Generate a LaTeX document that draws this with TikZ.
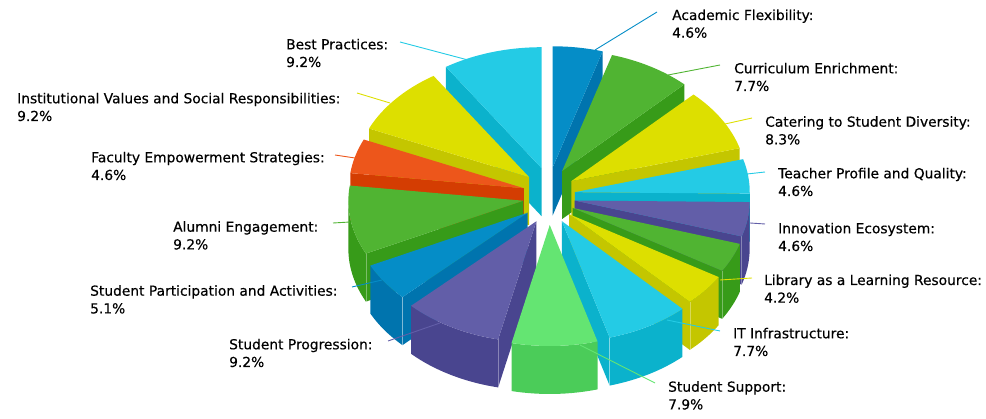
\documentclass[tikz,border=0pt]{standalone}
\usepackage{fontspec}
\setmainfont{DejaVu Sans}[FakeBold=0.4]
\usetikzlibrary{calc}
\definecolor{cBlue}{HTML}{058DC7}\definecolor{cBlueD}{HTML}{0074AE}
\definecolor{cGreen}{HTML}{50B432}\definecolor{cGreenD}{HTML}{379B19}
\definecolor{cYel}{HTML}{DDDF00}\definecolor{cYelD}{HTML}{C4C600}
\definecolor{cCyan}{HTML}{24CBE5}\definecolor{cCyanD}{HTML}{0BB2CC}
\definecolor{cPur}{HTML}{625EA8}\definecolor{cPurD}{HTML}{49458F}
\definecolor{cLG}{HTML}{64E572}\definecolor{cLGD}{HTML}{4BCC59}
\definecolor{cOr}{HTML}{ED561B}\definecolor{cOrD}{HTML}{D43D02}
\def\Rx{175}\def\Ry{121}\def\Hh{48}
\newcommand{\SetSlice}[2]{%
  \pgfmathsetmacro{\mmid}{(#1+#2)/2}%
  \pgfmathsetmacro{\offx}{26*cos(\mmid)}%
  \pgfmathsetmacro{\offy}{29*sin(\mmid)}%
  \coordinate (A) at ($(C)+(\offx,\offy)$);}
\newcommand{\TopFace}[3]{\fill[#3] (A) -- ($(A)+(#1:\Rx pt and \Ry pt)$) arc[start angle=#1,end angle=#2,x radius=\Rx pt,y radius=\Ry pt] -- cycle;}
\newcommand{\OuterSide}[3]{\fill[#3] ($(A)+(#1:\Rx pt and \Ry pt)$) arc[start angle=#1,end angle=#2,x radius=\Rx pt,y radius=\Ry pt] -- ++(0,-\Hh) arc[start angle=#2,end angle=#1,x radius=\Rx pt,y radius=\Ry pt] -- cycle;}
\newcommand{\CutFace}[2]{\fill[#2] (A) -- ($(A)+(#1:\Rx pt and \Ry pt)$) -- ++(0,-\Hh) -- ($(A)+(0,-\Hh)$) -- cycle;}
\newcommand{\Seam}[1]{\draw[seam] ($(A)+(#1:\Rx pt and \Ry pt)$) -- ++(0,-\Hh);}
\tikzset{
  seam/.style={white, opacity=0.35, line width=0.6pt},
  lead/.style={line width=0.9pt},
  lbl/.style={anchor=base west, inner sep=0pt, align=left, text=black,
    font=\fontsize{13.8}{17.7}\selectfont}
}
\begin{document}
\begin{tikzpicture}[x=1pt,y=1pt]
\useasboundingbox (0,0) rectangle (986,-419);
\coordinate (C) at (549,-196);
% AF
\SetSlice{73.44}{90}\CutFace{73.44}{cBlueD}\TopFace{73.44}{90}{cBlue}
% BP
\SetSlice{90}{123.12}\CutFace{123.12}{cCyanD}\TopFace{90}{123.12}{cCyan}
% CE
\SetSlice{45.72}{73.44}\CutFace{45.72}{cGreenD}\TopFace{45.72}{73.44}{cGreen}
% IV
\SetSlice{123.12}{156.24}\CutFace{156.24}{cYelD}\TopFace{123.12}{156.24}{cYel}
% CSD
\SetSlice{15.84}{45.72}\CutFace{15.84}{cYelD}\TopFace{15.84}{45.72}{cYel}
% FES
\SetSlice{156.24}{172.8}\CutFace{172.8}{cOrD}\TopFace{156.24}{172.8}{cOr}
% TPQ
\SetSlice{-0.72}{15.84}\CutFace{-0.72}{cCyanD}\OuterSide{-0.72}{0}{cCyanD}\TopFace{-0.72}{15.84}{cCyan}
% IE
\SetSlice{-17.28}{-0.72}\CutFace{-17.28}{cPurD}\OuterSide{-17.28}{-0.72}{cPurD}\Seam{-17.28}\TopFace{-17.28}{-0.72}{cPur}
% AE
\SetSlice{-187.2}{-154.08}\CutFace{-154.08}{cGreenD}\OuterSide{-180}{-154.08}{cGreenD}\Seam{-154.08}\TopFace{-187.2}{-154.08}{cGreen}
% unlabelled green
\SetSlice{-31.32}{-17.28}\CutFace{-31.32}{cGreenD}\OuterSide{-31.32}{-17.28}{cGreenD}\Seam{-31.32}\TopFace{-31.32}{-17.28}{cGreen}
% SPA
\SetSlice{-154.08}{-135.72}\CutFace{-135.72}{cBlueD}\OuterSide{-154.08}{-135.72}{cBlueD}\Seam{-135.72}\TopFace{-154.08}{-135.72}{cBlue}
% LLR
\SetSlice{-46.44}{-31.32}\CutFace{-46.44}{cYelD}\OuterSide{-46.44}{-31.32}{cYelD}\Seam{-46.44}\TopFace{-46.44}{-31.32}{cYel}
% IT
\SetSlice{-74.16}{-46.44}\CutFace{-74.16}{cCyanD}\OuterSide{-74.16}{-46.44}{cCyanD}\Seam{-74.16}\TopFace{-74.16}{-46.44}{cCyan}
% SP
\SetSlice{-135.72}{-102.6}\CutFace{-102.6}{cPurD}\OuterSide{-135.72}{-102.6}{cPurD}\Seam{-102.6}\TopFace{-135.72}{-102.6}{cPur}
% SS
\SetSlice{-102.6}{-74.16}\OuterSide{-102.6}{-74.16}{cLGD}\TopFace{-102.6}{-74.16}{cLG}

% labels (anchor = baseline of the second line)
\node[lbl] (tAF)  at (672,-37.7)  {Academic Flexibility:\\4.6\%};
\node[lbl] (tCE)  at (734,-91)    {Curriculum Enrichment:\\7.7\%};
\node[lbl] (tCSD) at (765,-144.4) {Catering to Student Diversity:\\8.3\%};
\node[lbl] (tTPQ) at (778,-196)   {Teacher Profile and Quality:\\4.6\%};
\node[lbl] (tIE)  at (778,-251)   {Innovation Ecosystem:\\4.6\%};
\node[lbl] (tLLR) at (764,-302.7) {Library as a Learning Resource:\\4.2\%};
\node[lbl] (tIT)  at (733,-356)   {IT Infrastructure:\\7.7\%};
\node[lbl] (tSS)  at (668,-409.4) {Student Support:\\7.9\%};
\node[lbl] (tSP)  at (229,-367)   {Student Progression:\\9.2\%};
\node[lbl] (tSPA) at (90,-313.4)  {Student Participation and Activities:\\5.1\%};
\node[lbl] (tAE)  at (173,-249.4) {Alumni Engagement:\\9.2\%};
\node[lbl] (tFES) at (91,-180)    {Faculty Empowerment Strategies:\\4.6\%};
\node[lbl] (tIV)  at (17,-121)    {Institutional Values and Social Responsibilities:\\9.2\%};
\node[lbl] (tBP)  at (286,-67)    {Best Practices:\\9.2\%};

% leader lines
\coordinate (pAF) at (595,-50);   \coordinate (qAF) at (657,-12);
\coordinate (pCE) at (668,-75);   \coordinate (qCE) at (720,-65);
\coordinate (pCSD) at (725,-124); \coordinate (qCSD) at (752,-118);
\coordinate (pTPQ) at (747,-174); \coordinate (qTPQ) at (765,-172);
\coordinate (pIE) at (750,-223);  \coordinate (qIE) at (765,-224);
\coordinate (pLLR) at (720,-280); \coordinate (qLLR) at (752,-278);
\coordinate (pIT) at (667,-320);  \coordinate (qIT) at (720,-331);
\coordinate (pSS) at (580,-345);  \coordinate (qSS) at (655,-383);
\coordinate (pSP) at (440,-323);  \coordinate (qSP) at (388,-341);
\coordinate (pSPA) at (382,-280); \coordinate (qSPA) at (352,-287);
\coordinate (pAE) at (350,-222);  \coordinate (qAE) at (333,-223);
\coordinate (pFES) at (355,-158); \coordinate (qFES) at (335,-155);
\coordinate (pIV) at (390,-103);  \coordinate (qIV) at (357,-93);
\coordinate (pBP) at (468,-60);   \coordinate (qBP) at (400,-42);
\draw[lead,cBlue]  (pAF) -- (qAF);
\draw[lead,cGreen] (pCE) -- (qCE);
\draw[lead,cYel]   (pCSD) -- (qCSD);
\draw[lead,cCyan]  (pTPQ) -- (qTPQ);
\draw[lead,cPur]   (pIE) -- (qIE);
\draw[lead,cYel]   (pLLR) -- (qLLR);
\draw[lead,cCyan]  (pIT) -- (qIT);
\draw[lead,cLG]    (pSS) -- (qSS);
\draw[lead,cPur]   (pSP) -- (qSP);
\draw[lead,cBlue]  (pSPA) -- (qSPA);
\draw[lead,cGreen] (pAE) -- (qAE);
\draw[lead,cOr]    (pFES) -- (qFES);
\draw[lead,cYel]   (pIV) -- (qIV);
\draw[lead,cCyan]  (pBP) -- (qBP);
\end{tikzpicture}
\end{document}
